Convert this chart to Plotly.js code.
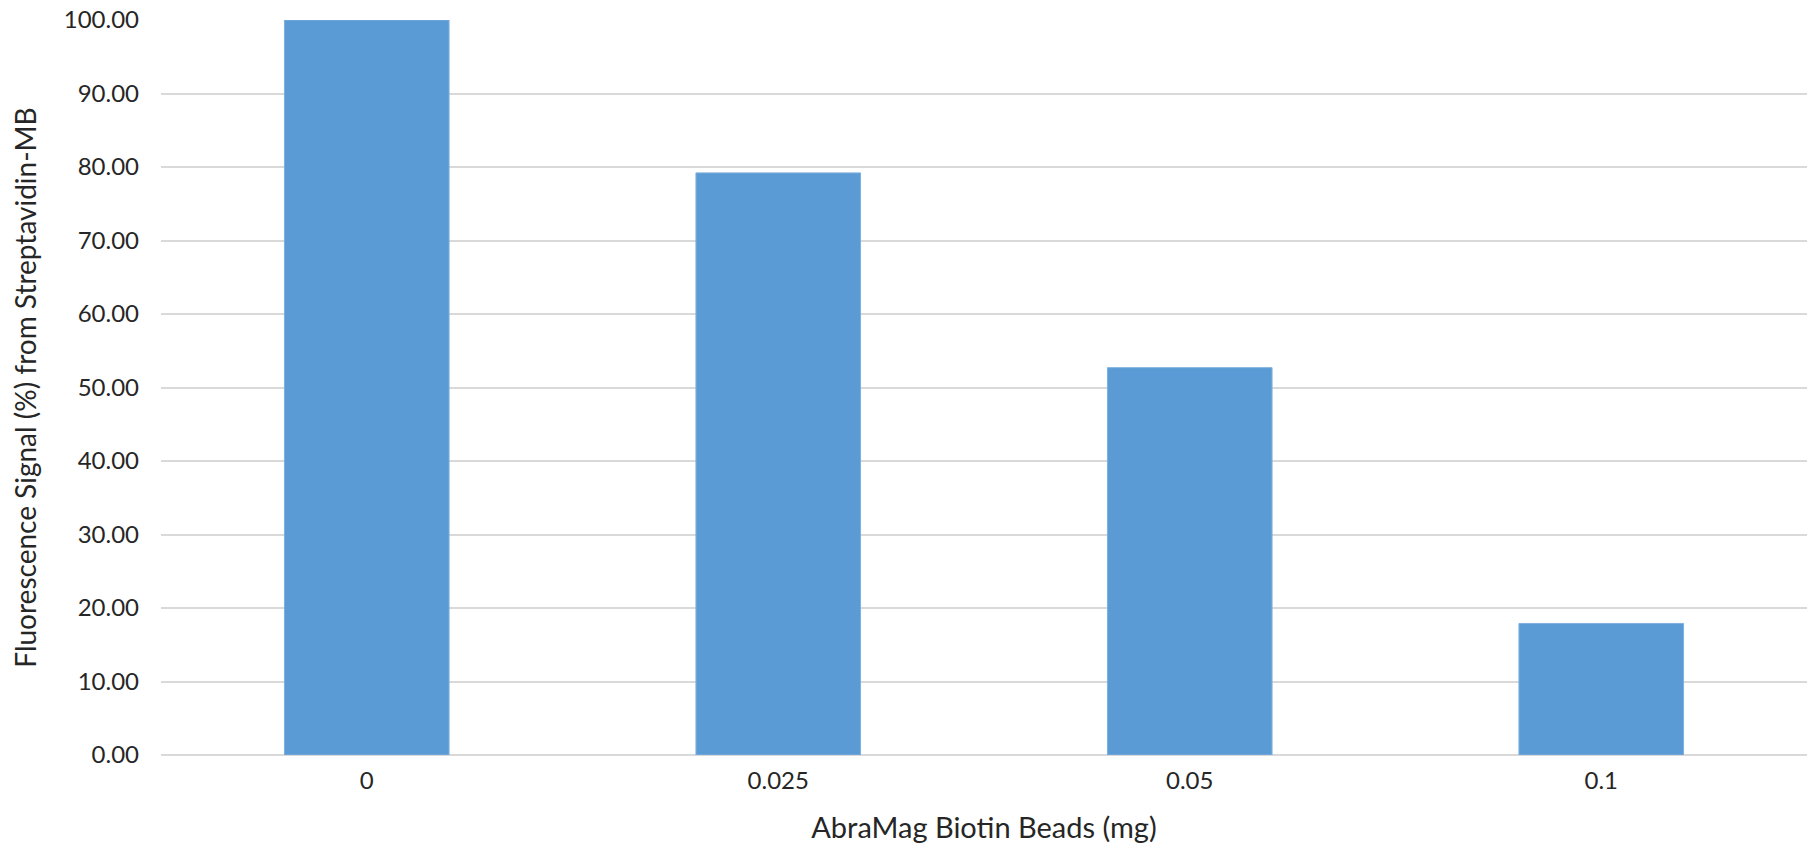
<!DOCTYPE html>
<html>
<head>
<meta charset="utf-8">
<script src="https://cdn.plot.ly/plotly-3.0.1.min.js"></script>
<style>html,body{margin:0;padding:0;background:#fff;}#chart{width:1807px;height:855px;}</style>
</head>
<body>
<div id="chart"></div>
<script>
const categories = ["0", "0.025", "0.05", "0.1"];
const signalValues = [100.0, 79.2, 52.7, 17.9];
const yTickValues = [0, 10, 20, 30, 40, 50, 60, 70, 80, 90, 100];
const yTickLabels = ["0.00", "10.00", "20.00", "30.00", "40.00", "50.00", "60.00", "70.00", "80.00", "90.00", "100.00"];

const fontFamily = "Lato, 'Open Sans', sans-serif";
const textColor = "#262626";

const trace = {
  type: "bar",
  x: categories,
  y: signalValues,
  marker: { color: "#5B9BD5", line: { color: "#7FB0DE", width: 1 } },
  width: 0.4,
  hoverinfo: "x+y"
};

const layout = {
  width: 1807,
  height: 855,
  margin: { l: 161, r: 0, t: 20, b: 100 },
  paper_bgcolor: "#ffffff",
  plot_bgcolor: "#ffffff",
  showlegend: false,
  font: { family: fontFamily, color: textColor, size: 24 },
  xaxis: {
    type: "category",
    tickfont: { size: 24, color: textColor, family: fontFamily },
    ticks: "",
    ticklabelstandoff: 9,
    showgrid: false,
    showline: false,
    zeroline: false,
    title: { text: "AbraMag Biotin Beads (mg)", font: { size: 29, color: textColor, family: fontFamily }, standoff: 24 }
  },
  yaxis: {
    range: [0, 100],
    tickvals: yTickValues,
    ticktext: yTickLabels,
    tickfont: { size: 24, color: textColor, family: fontFamily },
    ticks: "",
    ticklabelstandoff: 21,
    showgrid: true,
    gridcolor: "#d9d9d9",
    gridwidth: 2,
    zeroline: true,
    zerolinecolor: "#d9d9d9",
    zerolinewidth: 2,
    showline: false,
    title: { text: "Fluorescence Signal (%) from Streptavidin-MB", font: { size: 28, color: textColor, family: fontFamily }, standoff: 18 }
  }
};

Plotly.newPlot("chart", [trace], layout, { displayModeBar: false, staticPlot: true });
</script>
</body>
</html>
